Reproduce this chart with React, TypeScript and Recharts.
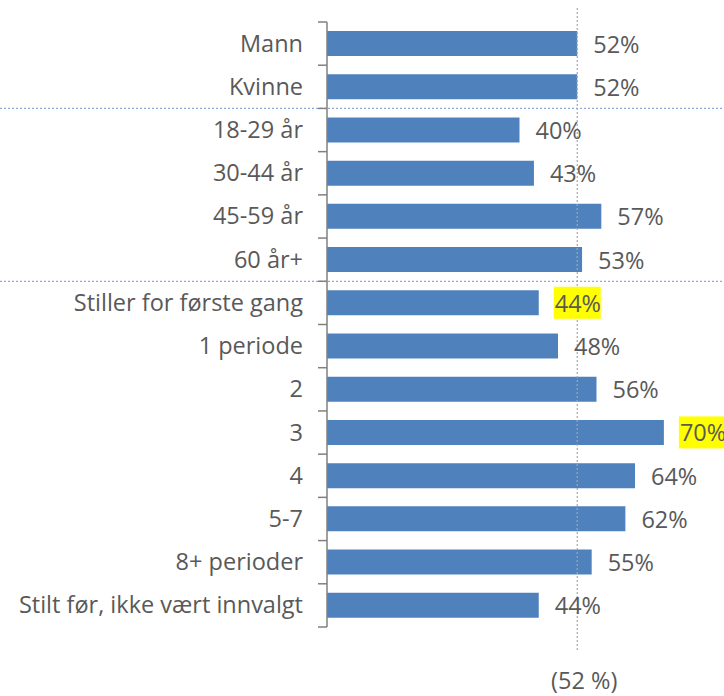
import React from 'react';
import { BarChart, Bar, XAxis, YAxis, ReferenceLine, LabelList } from 'recharts';

const categories = [
  'Mann',
  'Kvinne',
  '18-29 år',
  '30-44 år',
  '45-59 år',
  '60 år+',
  'Stiller for første gang',
  '1 periode',
  '2',
  '3',
  '4',
  '5-7',
  '8+ perioder',
  'Stilt før, ikke vært innvalgt',
];
const shares = [52, 52, 40, 43, 57, 53, 44, 48, 56, 70, 64, 62, 55, 44];
const highlighted = ['Stiller for første gang', '3'];
const groupStarts = ['18-29 år', 'Stiller for første gang'];
const average = 52;
const averageLabel = '(52 %)';

const data = categories.map((name, i) => ({ name, share: shares[i] }));

const W = 724;
const H = 696;
const margin = { top: 22, right: 12, bottom: 69, left: 0 };
const band = (H - margin.top - margin.bottom) / categories.length;
const FONT = '"Open Sans", sans-serif';
const FS = 23.5;
const TEXT = '#595959';
const AXIS = '#808080';

const CategoryTick = ({ x, y, payload, index }: any) => {
  const axisX = x + 24;
  return (
    <g>
      <text x={x} y={y} dy="0.34em" textAnchor="end" fill={TEXT} fontSize={FS} fontFamily={FONT}>
        {payload.value}
      </text>
      <line x1={axisX - 9} x2={axisX} y1={y - band / 2} y2={y - band / 2} stroke={AXIS} strokeWidth={1.5} />
      {index === categories.length - 1 && (
        <line x1={axisX - 9} x2={axisX} y1={y + band / 2} y2={y + band / 2} stroke={AXIS} strokeWidth={1.5} />
      )}
    </g>
  );
};

const ValueLabel = (p: any) => {
  const { x, y, width, height, value, index } = p;
  const tx = x + width + 16;
  const cy = y + height / 2;
  const hl = highlighted.includes(categories[index]);
  return (
    <g>
      {hl && <rect x={tx - 1} y={cy - 16} width={47} height={32} fill="#FFFF00" />}
      <text x={tx} y={cy} dy={9} fill={TEXT} fontSize={FS} fontFamily={FONT}>
        {`${value}%`}
      </text>
    </g>
  );
};

const Separator = (props: any) => (
  <line x1={0} x2={W} y1={props.y1} y2={props.y1} stroke="#8EAADB" strokeWidth={1.2} strokeDasharray="2 2" />
);

const AverageLine = (props: any) => {
  const top = Math.min(props.y1, props.y2);
  const bottom = Math.max(props.y1, props.y2);
  return (
    <g>
      <line x1={props.x1} x2={props.x1} y1={top - 14} y2={bottom + 25} stroke="#A6A6A6" strokeWidth={1.2} strokeDasharray="2 2" />
      <text x={props.x1 + 7} y={689} textAnchor="middle" fill={TEXT} fontSize={FS} fontFamily={FONT}>
        {averageLabel}
      </text>
    </g>
  );
};

export default function App() {
  return (
    <div style={{ position: 'absolute', left: 0, top: 0, background: '#fff' }}>
      <BarChart width={W} height={H} data={data} layout="vertical" margin={margin} barSize={25}>
        <XAxis type="number" domain={[0, 80]} hide />
        <YAxis
          type="category"
          dataKey="name"
          width={327}
          interval={0}
          tickSize={0}
          tickMargin={24}
          tick={<CategoryTick />}
          axisLine={{ stroke: AXIS, strokeWidth: 1.5 }}
          tickLine={false}
        />
        {groupStarts.map((g) => (
          <ReferenceLine key={g} y={g} position="start" ifOverflow="visible" shape={<Separator />} />
        ))}
        <Bar dataKey="share" fill="#4F81BD" isAnimationActive={false}>
          <LabelList dataKey="share" content={<ValueLabel />} />
        </Bar>
        <ReferenceLine x={average} ifOverflow="visible" shape={<AverageLine />} />
      </BarChart>
    </div>
  );
}
